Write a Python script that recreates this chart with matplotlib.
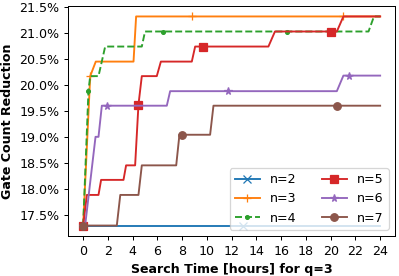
import matplotlib
matplotlib.use("Agg")
import matplotlib.pyplot as plt
from matplotlib.ticker import FuncFormatter

labels = ["n=2", "n=3", "n=4", "n=5", "n=6", "n=7"]

t2 = [0, 12.95, 24]
v2 = [17.29, 17.29, 17.29]
m2 = [0, 1]

t3 = [0, 0.57, 1.02, 4.07, 4.28, 8.8, 21.0, 24]
v3 = [17.29, 20.17, 20.45, 20.45, 21.32, 21.32, 21.32, 21.32]
m3 = [0, 1, 5, 6]

t4 = [0, 0.43, 0.57, 1.24, 1.78, 4.74, 5.0, 6.49, 16.5, 23.06, 23.5, 24]
v4 = [17.29, 19.89, 20.17, 20.17, 20.74, 20.74, 21.03, 21.03, 21.03, 21.03, 21.32, 21.32]
m4 = [0, 1, 7, 8]

t5 = [0, 0.3, 1.24, 1.45, 3.26, 3.47, 4.2, 4.47, 4.74, 5.95, 6.28, 8.78, 9.05,
      9.72, 14.97, 15.5, 20.04, 20.5, 21.03, 24]
v5 = [17.29, 17.88, 17.88, 18.17, 18.17, 18.45, 18.45, 19.62, 20.17, 20.17, 20.45,
      20.45, 20.74, 20.74, 20.74, 21.03, 21.03, 21.03, 21.32, 21.32]
m5 = [0, 7, 13, 16]

t6 = [0, 0.16, 1.0, 1.24, 1.51, 1.96, 6.76, 7.03, 11.74, 20.5, 21.03, 21.5, 24]
v6 = [17.29, 17.29, 19.0, 19.0, 19.6, 19.6, 19.6, 19.88, 19.88, 19.88, 20.18, 20.18, 20.18]
m6 = [0, 5, 8, 11]

t7 = [0, 2.72, 3.0, 4.47, 4.74, 7.52, 7.78, 7.97, 10.26, 10.53, 20.55, 24]
v7 = [17.29, 17.29, 17.88, 17.88, 18.45, 18.45, 19.04, 19.04, 19.04, 19.6, 19.6, 19.6]
m7 = [0, 7, 10]

series = [(t2, v2, m2), (t3, v3, m3), (t4, v4, m4), (t5, v5, m5), (t6, v6, m6), (t7, v7, m7)]
markers = ["x", "+", ".", "s", "*", "o"]
styles = ["-", "-", "--", "-", "-", "-"]
colors = ["C0", "C1", "C2", "C3", "C4", "C5"]

W, H = 399, 276
scale = 0.907
fig = plt.figure(figsize=(W / 100 / scale, H / 100 / scale), dpi=100 * scale)
ax = fig.add_axes([68.3 / W, 1 - 236 / H, (395 - 68.3) / W, (236 - 6) / H])
for (t, v, m), lab, mk, ls, c in zip(series, labels, markers, styles, colors):
    ax.plot(t, v, linestyle=ls, marker=mk, markevery=m, color=c, label=lab)

ax.set_yticks([17.5, 18.0, 18.5, 19.0, 19.5, 20.0, 20.5, 21.0, 21.5])
ax.yaxis.set_major_formatter(FuncFormatter(lambda y, p: f"{y:.1f}%"))
ax.set_xticks(range(0, 25, 2))
ax.set_xlabel("Search Time [hours] for q=3", fontweight="bold")
ax.set_ylabel("Gate Count Reduction", fontweight="bold")
ax.legend(loc="lower right", ncol=2)
fig.savefig("out.png", dpi=100 * scale)
